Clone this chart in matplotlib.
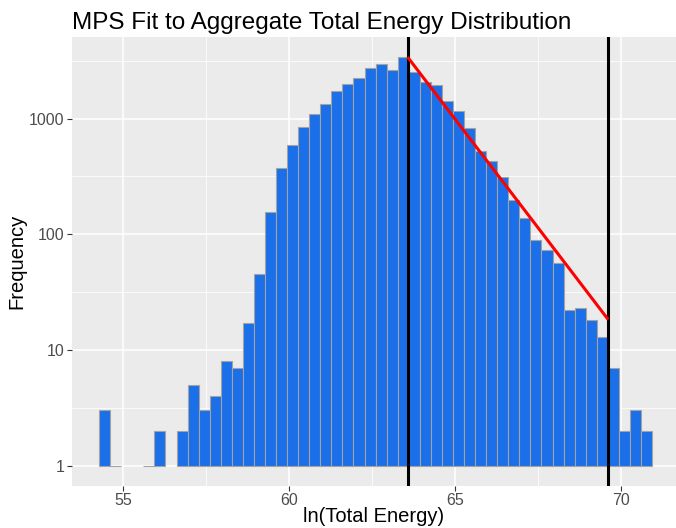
import numpy as np
import matplotlib
matplotlib.use("Agg")
import matplotlib.pyplot as plt
from matplotlib.ticker import FixedLocator, NullFormatter

plt.rcParams["font.family"] = ["Liberation Sans", "DejaVu Sans"]

# histogram of ln(total energy), 50 bins
hist_lo, hist_hi = 54.277, 70.93
counts = [3, 1, 0, 0, 1, 2, 0, 2, 5, 3,
          4, 8, 7, 17, 45, 156, 374, 587, 851, 1096,
          1327, 1742, 2004, 2256, 2715, 2965, 2630, 3381, 2528, 2055,
          1951, 1429, 1153, 835, 528, 434, 313, 199, 138, 90,
          73, 56, 22, 23, 18, 13, 7, 2, 3, 2]

# fit window and fitted exponential tail (end points of the line)
fit_x = [63.57, 69.61]
fit_y = [3400, 18.3]

x_ticks = [55, 60, 65, 70]
y_ticks = [1, 10, 100, 1000]

BLUE = "#1B6FE8"
PANEL = "#EBEBEB"
TXT = "#4D4D4D"

counts = np.array(counts, dtype=float)
edges = np.linspace(hist_lo, hist_hi, len(counts) + 1)
width = edges[1] - edges[0]

fig = plt.figure(figsize=(6.76, 5.28), dpi=100)
W, H = 676, 528
pl, pt, pb = 71.5, 37, 486
ax = fig.add_axes([pl / W, 1 - pb / H, (W - pl) / W, (pb - pt) / H])
ax.set_facecolor(PANEL)
for s in ax.spines.values():
    s.set_visible(False)

# bars start at 1 on the log axis; empty bins are dropped
keep = counts > 0
ax.bar(edges[:-1][keep], counts[keep] - 1, width=width, bottom=1, align="edge",
       color=BLUE, edgecolor="#A3A3A3", linewidth=0.8, zorder=3)

ax.axvline(fit_x[0], color="black", lw=2.2, zorder=4)
ax.axvline(fit_x[1], color="black", lw=2.2, zorder=4)
ax.plot(fit_x, fit_y, color="#FF0000", lw=2.2, zorder=5, solid_capstyle="butt")

ax.set_yscale("log")
# 5% expansion like ggplot
xr = hist_hi - hist_lo
ax.set_xlim(hist_lo - 0.05 * xr, hist_lo - 0.05 * xr + (W - pl) / 33.2)
ly = np.log10(counts.max())
ax.set_ylim(10 ** (-0.05 * ly), 10 ** (ly * 1.05))

ax.xaxis.set_major_locator(FixedLocator(x_ticks))
ax.xaxis.set_minor_locator(FixedLocator([57.5, 62.5, 67.5]))
ax.yaxis.set_major_locator(FixedLocator(y_ticks))
ax.yaxis.set_minor_locator(FixedLocator([10 ** 0.5, 10 ** 1.5, 10 ** 2.5, 10 ** 3.5]))
ax.yaxis.set_minor_formatter(NullFormatter())
ax.set_yticklabels([str(v) for v in y_ticks])
ax.grid(which="major", color="white", lw=1.1, zorder=0)
ax.grid(which="minor", color="white", lw=0.55, zorder=0)
ax.set_axisbelow(True)
ax.tick_params(which="major", length=3.3, width=0.8, color="#333333",
               labelsize=11.5, labelcolor=TXT, pad=2)
ax.tick_params(axis="x", which="major", pad=1.5)
ax.tick_params(which="minor", length=0)

fig.text((pl + W) / 2 / W, 1 - 516 / H, "ln(Total Energy)", fontsize=14.5,
         ha="center", va="center")
fig.text(17 / W, 1 - (pt + pb) / 2 / H, "Frequency", fontsize=14.5,
         rotation=90, ha="center", va="center")
fig.text(pl / W, 1 - 29 / H, "MPS Fit to Aggregate Total Energy Distribution",
         fontsize=17.5, ha="left", va="baseline")

fig.savefig("out.png", dpi=100)
